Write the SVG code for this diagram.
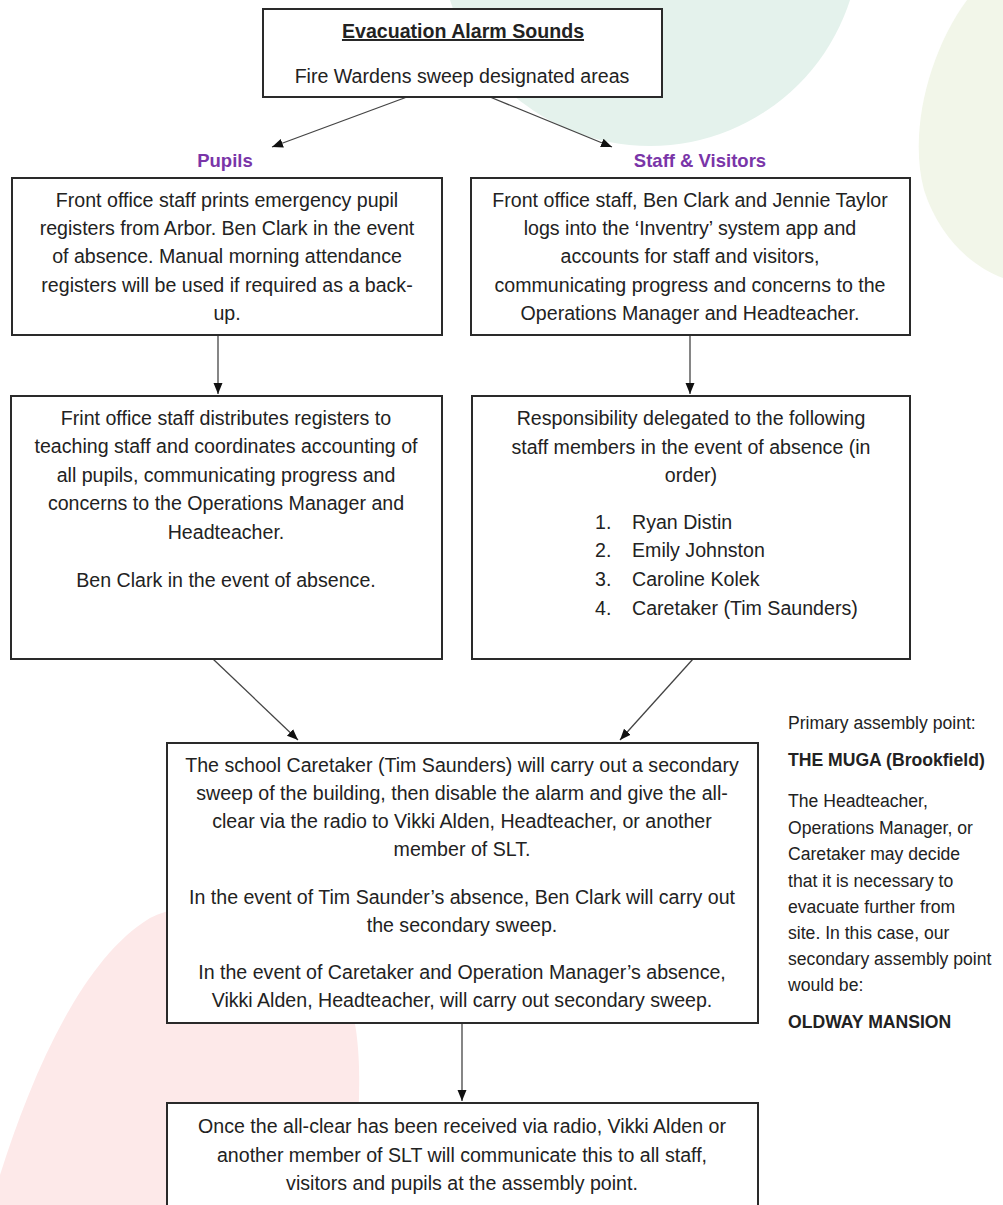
<svg xmlns="http://www.w3.org/2000/svg" width="1003" height="1205" viewBox="0 0 1003 1205">
<defs>
<marker id="ah" markerUnits="userSpaceOnUse" markerWidth="12" markerHeight="12" viewBox="0 0 12 12" refX="11" refY="6" orient="auto">
<path d="M0,1.5 L11,6 L0,10.5 Z" fill="#111"/>
</marker>
<style>
.box{fill:#fff;stroke:#2a2a2a;stroke-width:2}
.t{font-family:"Liberation Sans",Arial,sans-serif;font-size:19.6px;fill:#222;text-anchor:middle}
.s{font-family:"Liberation Sans",Arial,sans-serif;font-size:17.6px;fill:#222}
.b{font-weight:bold}
.h{font-family:"Liberation Sans",Arial,sans-serif;font-size:18.5px;font-weight:bold;fill:#7a35a8;text-anchor:middle}
.l{font-family:"Liberation Sans",Arial,sans-serif;font-size:19.6px;fill:#222}
.c{fill:none;stroke:#444;stroke-width:1.3;marker-end:url(#ah)}
</style>
</defs>
<g id="background">
<circle cx="650" cy="-64" r="210" fill="#e4f2ec"/>
<path d="M967,0 C930,50 908,130 924,190 C940,240 975,268 1003,278 L1003,0 Z" fill="#f2f6e9"/>
<path d="M0,1205 L0,1175 C30,1080 80,960 150,918 C230,880 330,930 352,1010 C365,1060 358,1140 350,1205 Z" fill="#fde9e9"/>
</g>
<g id="connectors">
<path class="c" d="M407,97 L272,147"/>
<path class="c" d="M490,97 L612,147"/>
<path class="c" d="M218,335 L218,394"/>
<path class="c" d="M690,335 L690,394"/>
<path class="c" d="M213,659 L298,740"/>
<path class="c" d="M693,659 L620,740"/>
<path class="c" d="M462,1023 L462,1101"/>
</g>
<g id="n-alarm">
<rect class="box" x="263" y="9" width="399" height="88"/>
<text class="t b" x="463" y="38" text-decoration="underline">Evacuation Alarm Sounds</text>
<text class="t" x="462" y="83">Fire Wardens sweep designated areas</text>
</g>
<g id="label-pupils"><text class="h" x="225" y="167">Pupils</text></g>
<g id="label-staff"><text class="h" x="700" y="167">Staff &amp; Visitors</text></g>
<g id="n-pupils-print">
<rect class="box" x="12" y="178" width="430" height="157"/>
<text class="t" x="227" y="207">Front office staff prints emergency pupil</text>
<text class="t" x="227" y="235">registers from Arbor. Ben Clark in the event</text>
<text class="t" x="227" y="263">of absence. Manual morning attendance</text>
<text class="t" x="227" y="292">registers will be used if required as a back-</text>
<text class="t" x="227" y="320">up.</text>
</g>
<g id="n-staff-inventry">
<rect class="box" x="471" y="178" width="439" height="157"/>
<text class="t" x="690" y="207">Front office staff, Ben Clark and Jennie Taylor</text>
<text class="t" x="690" y="235">logs into the ‘Inventry’ system app and</text>
<text class="t" x="690" y="263">accounts for staff and visitors,</text>
<text class="t" x="690" y="292">communicating progress and concerns to the</text>
<text class="t" x="690" y="320">Operations Manager and Headteacher.</text>
</g>
<g id="n-pupils-distribute">
<rect class="box" x="11" y="396" width="431" height="263"/>
<text class="t" x="226" y="425">Frint office staff distributes registers to</text>
<text class="t" x="226" y="453">teaching staff and coordinates accounting of</text>
<text class="t" x="226" y="482">all pupils, communicating progress and</text>
<text class="t" x="226" y="510">concerns to the Operations Manager and</text>
<text class="t" x="226" y="539">Headteacher.</text>
<text class="t" x="226" y="587">Ben Clark in the event of absence.</text>
</g>
<g id="n-staff-delegated">
<rect class="box" x="472" y="396" width="438" height="263"/>
<text class="t" x="691" y="425">Responsibility delegated to the following</text>
<text class="t" x="691" y="454">staff members in the event of absence (in</text>
<text class="t" x="691" y="482">order)</text>
<text class="l" x="595" y="529">1.</text><text class="l" x="632" y="529">Ryan Distin</text>
<text class="l" x="595" y="557">2.</text><text class="l" x="632" y="557">Emily Johnston</text>
<text class="l" x="595" y="586">3.</text><text class="l" x="632" y="586">Caroline Kolek</text>
<text class="l" x="595" y="615">4.</text><text class="l" x="632" y="615">Caretaker (Tim Saunders)</text>
</g>
<g id="n-caretaker-sweep">
<rect class="box" x="167" y="743" width="591" height="280"/>
<text class="t" x="462" y="772">The school Caretaker (Tim Saunders) will carry out a secondary</text>
<text class="t" x="462" y="800">sweep of the building, then disable the alarm and give the all-</text>
<text class="t" x="462" y="828">clear via the radio to Vikki Alden, Headteacher, or another</text>
<text class="t" x="462" y="856">member of SLT.</text>
<text class="t" x="462" y="904">In the event of Tim Saunder’s absence, Ben Clark will carry out</text>
<text class="t" x="462" y="932">the secondary sweep.</text>
<text class="t" x="462" y="979">In the event of Caretaker and Operation Manager’s absence,</text>
<text class="t" x="462" y="1007">Vikki Alden, Headteacher, will carry out secondary sweep.</text>
</g>
<g id="n-all-clear">
<rect class="box" x="167" y="1103" width="591" height="120"/>
<text class="t" x="462" y="1133">Once the all-clear has been received via radio, Vikki Alden or</text>
<text class="t" x="462" y="1162">another member of SLT will communicate this to all staff,</text>
<text class="t" x="462" y="1190">visitors and pupils at the assembly point.</text>
</g>
<g id="assembly-note">
<text class="s" x="788" y="729">Primary assembly point:</text>
<text class="s b" x="788" y="766">THE MUGA (Brookfield)</text>
<text class="s" x="788" y="807">The Headteacher,</text>
<text class="s" x="788" y="834">Operations Manager, or</text>
<text class="s" x="788" y="860">Caretaker may decide</text>
<text class="s" x="788" y="887">that it is necessary to</text>
<text class="s" x="788" y="913">evacuate further from</text>
<text class="s" x="788" y="939">site. In this case, our</text>
<text class="s" x="788" y="965">secondary assembly point</text>
<text class="s" x="788" y="991">would be:</text>
<text class="s b" x="788" y="1028">OLDWAY MANSION</text>
</g>
</svg>
